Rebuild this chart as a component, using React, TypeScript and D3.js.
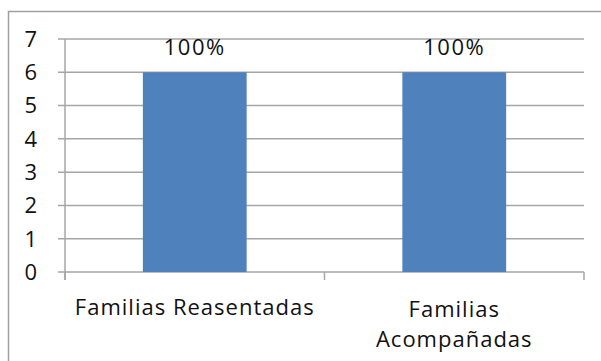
import React from "react";
import * as d3 from "d3";

const categories: string[][] = [["Familias Reasentadas"], ["Familias", "Acompañadas"]];
const values: number[] = [6, 6];
const dataLabels: string[] = ["100%", "100%"];
const yTicks: number[] = [0, 1, 2, 3, 4, 5, 6, 7];

const W = 601;
const H = 361;
const left = 65;
const right = 584;
const top = 39;
const bottom = 272;
const FONT = "'Open Sans', sans-serif";

export default function App() {
  const keys = categories.map((c) => c.join(" "));
  const x = d3.scaleBand<string>().domain(keys).range([left, right]).paddingInner(0.6).paddingOuter(0.3);
  const y = d3.scaleLinear().domain([0, 7]).range([bottom, top]);
  const boundaries = d3.range(keys.length + 1).map((i) => left + i * (right - left) / keys.length);

  return (
    <svg width={W} height={H} style={{ position: "absolute", left: 0, top: 0, display: "block", background: "#fff" }}>
      <rect x={8.5} y={11.5} width={700} height={400} fill="#fff" stroke="#a0a0a0" strokeWidth={1.5} />
      {yTicks.map((t) => (
        <g key={t}>
          <line x1={left - 7} x2={right} y1={y(t)} y2={y(t)} stroke="#a6a6a6" strokeWidth={1.5} />
          <text x={37} y={y(t)} dy="0.36em" textAnchor="end" fontFamily={FONT} fontSize={22} fill="#111">
            {t}
          </text>
        </g>
      ))}
      <line x1={left} x2={left} y1={top} y2={bottom + 8} stroke="#a6a6a6" strokeWidth={1.5} />
      {boundaries.map((b, i) => (
        <line key={i} x1={b} x2={b} y1={bottom} y2={bottom + 8} stroke="#a6a6a6" strokeWidth={1.5} />
      ))}
      {keys.map((k, i) => (
        <g key={k}>
          <rect x={x(k)!} y={y(values[i])} width={x.bandwidth()} height={y(0) - y(values[i])} fill="#4f81bd" />
          <text
            x={x(k)! + x.bandwidth() / 2}
            y={y(values[i]) - 17}
            textAnchor="middle"
            fontFamily={FONT}
            fontSize={22}
            letterSpacing={1.5}
            fill="#111"
          >
            {dataLabels[i]}
          </text>
          <text
            x={x(k)! + x.bandwidth() / 2}
            y={categories[i].length > 1 ? 317 : 315}
            textAnchor="middle"
            fontFamily={FONT}
            fontSize={22}
            letterSpacing={1}
            fill="#111"
          >
            {categories[i].map((line, j) => (
              <tspan key={j} x={x(k)! + x.bandwidth() / 2} dy={j === 0 ? 0 : 30}>
                {line}
              </tspan>
            ))}
          </text>
        </g>
      ))}
    </svg>
  );
}
